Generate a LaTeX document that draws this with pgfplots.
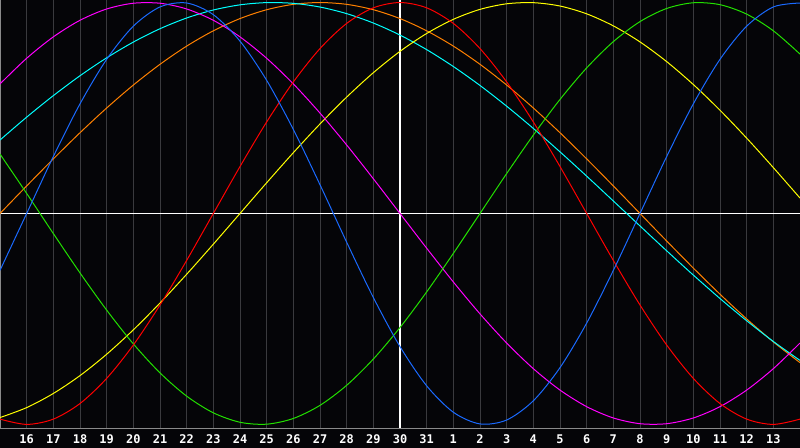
\documentclass[border=0pt]{standalone}
\usepackage{fontspec}
\usepackage{pgfplots}
\pgfplotsset{compat=1.18}
\usepackage{pgfplotstable}
\newfontfamily\lab{DejaVu Sans Mono}
\definecolor{bg}{HTML}{050508}
\definecolor{gridc}{HTML}{3A3A3E}
\definecolor{bord}{HTML}{8A8A8A}
\definecolor{cphys}{HTML}{1A6AFF}
\definecolor{cemo}{HTML}{FF0000}
\definecolor{cint}{HTML}{22E000}
\definecolor{cintu}{HTML}{FF00FF}
\definecolor{caes}{HTML}{FFFF00}
\definecolor{cawa}{HTML}{FF8000}
\definecolor{cspi}{HTML}{00FFFF}
\pgfplotstableread{
x phys emo int intu aes awa spi
15 -0.2698 -0.9749 0.2817 0.6142 -0.9675 0 0.3482
16 0 -1 0.0951 0.7357 -0.9203 0.1305 0.4566
17 0.2698 -0.9749 -0.0951 0.8372 -0.8533 0.2588 0.5586
18 0.5196 -0.9010 -0.2817 0.9158 -0.7686 0.3827 0.6529
19 0.7308 -0.7818 -0.4582 0.9694 -0.6673 0.5 0.7378
20 0.8879 -0.6235 -0.6182 0.9966 -0.5517 0.6088 0.8125
21 0.9791 -0.4339 -0.7557 0.9966 -0.4244 0.7071 0.8758
22 0.9977 -0.2225 -0.8660 0.9694 -0.2881 0.7934 0.9267
23 0.9423 0 -0.9450 0.9158 -0.1456 0.8660 0.9646
24 0.8170 0.2225 -0.9898 0.8372 0 0.9239 0.9890
25 0.6311 0.4339 -0.9989 0.7357 0.1456 0.9659 0.9996
26 0.3984 0.6235 -0.9718 0.6142 0.2881 0.9914 0.9961
27 0.1362 0.7818 -0.9096 0.4759 0.4244 1 0.9786
28 -0.1362 0.9010 -0.8146 0.3247 0.5517 0.9914 0.9473
29 -0.3984 0.9749 -0.6901 0.1646 0.6673 0.9659 0.9028
30 -0.6311 1 -0.5406 0 0.7686 0.9239 0.8457
31 -0.8170 0.9749 -0.3717 -0.1646 0.8533 0.8660 0.7767
32 -0.9423 0.9010 -0.1893 -0.3247 0.9203 0.7934 0.6966
33 -0.9977 0.7818 0 -0.4759 0.9675 0.7071 0.6068
34 -0.9791 0.6235 0.1893 -0.6142 0.9940 0.6088 0.5085
35 -0.8879 0.4339 0.3717 -0.7357 0.9993 0.5 0.4031
36 -0.7308 0.2225 0.5406 -0.8372 0.9834 0.3827 0.2921
37 -0.5196 0 0.6901 -0.9158 0.9464 0.2588 0.1769
38 -0.2698 -0.2225 0.8146 -0.9694 0.8893 0.1305 0.0592
39 0 -0.4339 0.9096 -0.9966 0.8133 0 -0.0592
40 0.2698 -0.6235 0.9718 -0.9966 0.7199 -0.1305 -0.1769
41 0.5196 -0.7818 0.9989 -0.9694 0.6112 -0.2588 -0.2921
42 0.7308 -0.9010 0.9898 -0.9158 0.4894 -0.3827 -0.4031
43 0.8879 -0.9749 0.9450 -0.8372 0.3572 -0.5 -0.5085
44 0.9791 -1 0.8660 -0.7357 0.2174 -0.6088 -0.6068
45 0.9977 -0.9749 0.7557 -0.6142 0.0730 -0.7071 -0.6966
}\data
\begin{document}
\begin{tikzpicture}
\useasboundingbox (0,0) rectangle (800bp,448bp);
\fill[bg] (0,0) rectangle (800bp,448bp);
\begin{axis}[
  at={(0,448bp)}, anchor=north west,
  scale only axis, width=800bp, height=428bp,
  xmin=15, xmax=45, ymin=-1.017, ymax=1.012,
  axis x line*=box, axis y line*=left,
  axis line style={bord, line width=1bp},
  major tick length=0pt,
  xtick={16,...,44},
  xticklabels={16,17,18,19,20,21,22,23,24,25,26,27,28,29,30,31,1,2,3,4,5,6,7,8,9,10,11,12,13},
  xticklabel style={text=white, inner sep=0pt, anchor=base, yshift=-15bp,
    font=\lab\bfseries\fontsize{12}{12}\selectfont},
  xmajorgrids, x grid style={gridc, line width=1bp},
  extra x ticks={30}, extra x tick labels={},
  extra x tick style={grid=major, x grid style={white, line width=1.2bp}},
  ytick={0}, yticklabels={}, yticklabel style={inner sep=0pt},
  ymajorgrids, y grid style={white, line width=1.2bp},
  clip=true,
  every axis plot/.append style={line width=1bp, smooth, no markers},
]
\addplot[cawa] table[x=x, y=awa] {\data};
\addplot[cspi] table[x=x, y=spi] {\data};
\addplot[caes] table[x=x, y=aes] {\data};
\addplot[cintu] table[x=x, y=intu] {\data};
\addplot[cint] table[x=x, y=int] {\data};
\addplot[cemo] table[x=x, y=emo] {\data};
\addplot[cphys] table[x=x, y=phys] {\data};
\end{axis}
\end{tikzpicture}
\end{document}
